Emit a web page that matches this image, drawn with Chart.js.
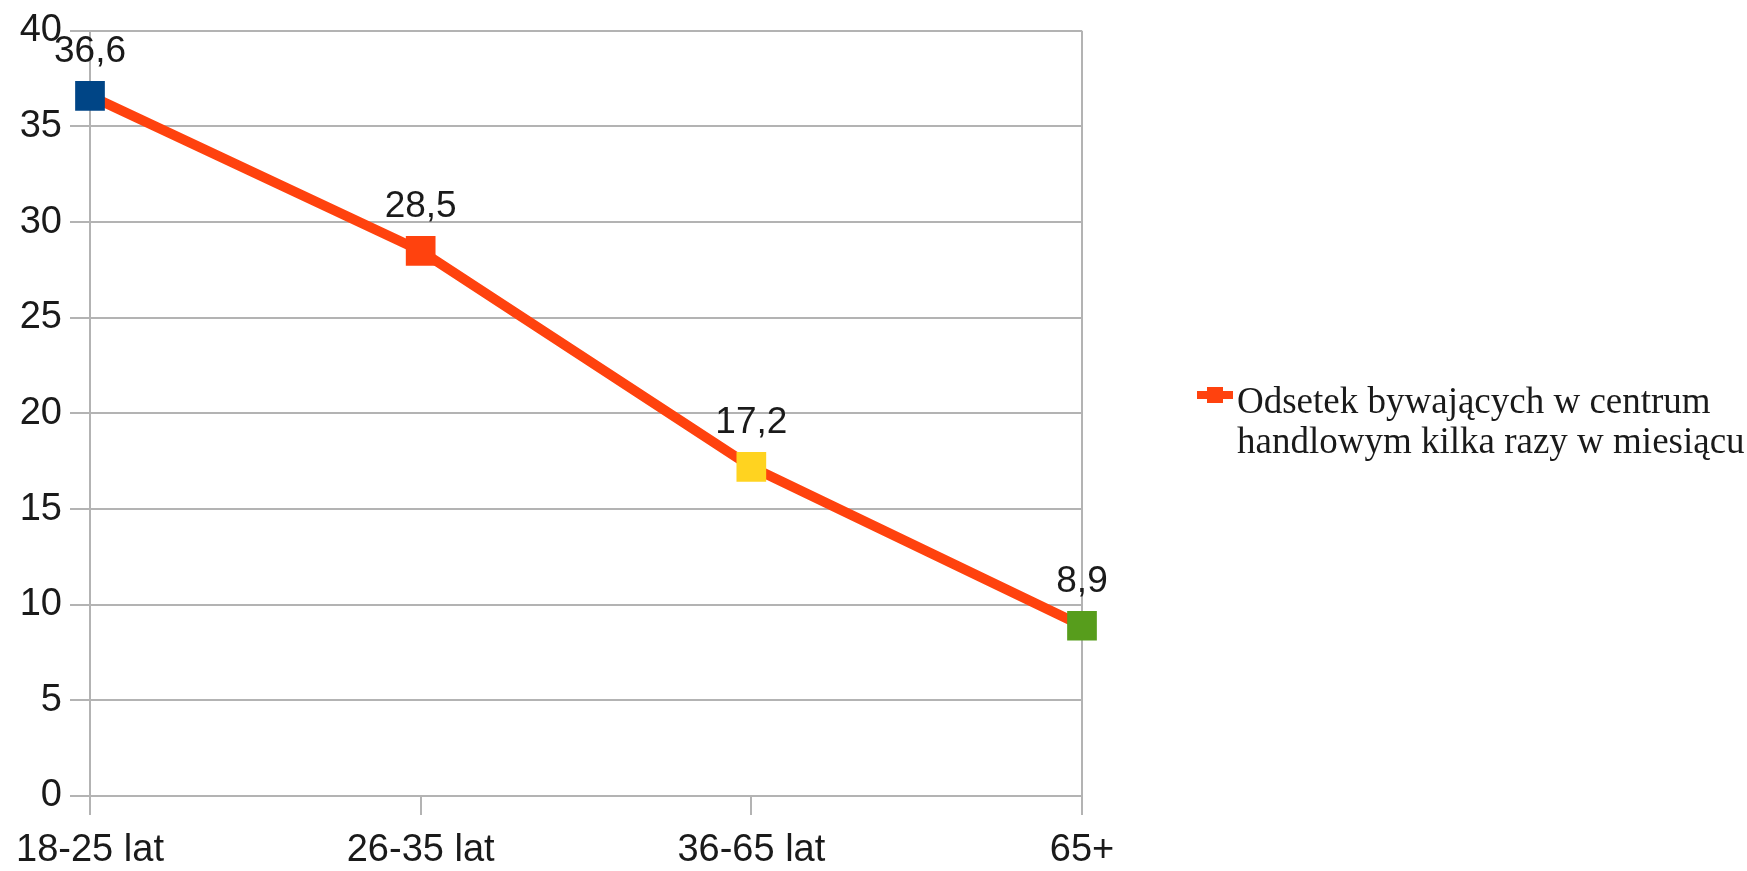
<!DOCTYPE html>
<html>
<head>
<meta charset="utf-8">
<script src="https://cdn.jsdelivr.net/npm/chart.js@4/dist/chart.umd.min.js"></script>
<style>
  html, body { margin: 0; padding: 0; background: #ffffff; }
  #wrap { width: 1747px; height: 871px; }
</style>
</head>
<body>
<div id="wrap"><canvas id="chart" width="1747" height="871"></canvas></div>
<script>
// Age groups and share of people visiting a shopping centre several times a month
const categories = ['18-25 lat', '26-35 lat', '36-65 lat', '65+'];
const values = [36.6, 28.5, 17.2, 8.9];
const pointColors = ['#004586', '#ff420e', '#ffd320', '#579d1c'];
const seriesName = ['Odsetek bywających w centrum', 'handlowym kilka razy w miesiącu'];
const yTicks = { min: 0, max: 40, step: 5 };

const LINE_COLOR = '#ff420e';
const GRID = '#b3b3b3';
const TEXT = '#1a1a1a';
const SANS = '"Liberation Sans", Arial, sans-serif';

// Value labels above each point, written with a decimal comma
const valueLabels = {
  id: 'valueLabels',
  afterDatasetsDraw(chart) {
    const ctx = chart.ctx;
    const meta = chart.getDatasetMeta(0);
    ctx.save();
    ctx.font = '37px ' + SANS;
    ctx.fillStyle = TEXT;
    ctx.textAlign = 'center';
    ctx.textBaseline = 'alphabetic';
    meta.data.forEach((pt, i) => {
      const txt = String(values[i]).replace('.', ',');
      ctx.fillText(txt, pt.x, pt.y - 34);
    });
    ctx.restore();
  }
};

// Legend on the right: line sample with square marker and two-line serif caption
const sideLegend = {
  id: 'sideLegend',
  afterDraw(chart) {
    const ctx = chart.ctx;
    const area = chart.chartArea;
    const x0 = area.right + 115;
    const yMid = 395;
    ctx.save();
    ctx.strokeStyle = LINE_COLOR;
    ctx.lineWidth = 8;
    ctx.beginPath();
    ctx.moveTo(x0, yMid);
    ctx.lineTo(x0 + 36, yMid);
    ctx.stroke();
    ctx.fillStyle = LINE_COLOR;
    ctx.fillRect(x0 + 10, yMid - 8, 16, 16);
    ctx.font = '37px "Liberation Serif", "Times New Roman", serif';
    ctx.fillStyle = TEXT;
    ctx.textAlign = 'left';
    ctx.textBaseline = 'alphabetic';
    seriesName.forEach((line, i) => {
      ctx.fillText(line, x0 + 40, 413 + i * 40);
    });
    ctx.restore();
  }
};

const lastIndex = categories.length - 1;

new Chart(document.getElementById('chart'), {
  type: 'line',
  data: {
    labels: categories,
    datasets: [{
      label: seriesName.join(' '),
      data: values,
      borderColor: LINE_COLOR,
      borderWidth: 10,
      tension: 0,
      fill: false,
      pointStyle: 'rect',
      pointRadius: 21,
      pointHoverRadius: 21,
      pointBackgroundColor: pointColors,
      pointBorderColor: pointColors,
      pointBorderWidth: 0
    }]
  },
  options: {
    responsive: false,
    animation: false,
    devicePixelRatio: 1,
    layout: { padding: { left: 0, top: 29, right: 665, bottom: 0 } },
    plugins: {
      legend: { display: false },
      tooltip: { enabled: false }
    },
    scales: {
      x: {
        type: 'category',
        offset: false,
        grid: {
          offset: false,
          color: (c) => (c.index === 0 || c.index === lastIndex) ? GRID : 'rgba(0,0,0,0)',
          tickColor: GRID,
          tickLength: 19,
          lineWidth: 2
        },
        border: { display: true, color: GRID, width: 2 },
        ticks: {
          color: TEXT,
          font: { family: SANS, size: 38 },
          padding: 13,
          maxRotation: 0,
          autoSkip: false
        },
        afterFit: (scale) => { scale.height = 75; }
      },
      y: {
        min: yTicks.min,
        max: yTicks.max,
        grid: {
          color: GRID,
          tickColor: GRID,
          tickLength: 20,
          lineWidth: 2
        },
        border: { display: true, color: GRID, width: 2 },
        ticks: {
          stepSize: yTicks.step,
          color: TEXT,
          font: { family: SANS, size: 38 },
          padding: 8
        },
        afterFit: (scale) => { scale.width = 90; }
      }
    }
  },
  plugins: [valueLabels, sideLegend]
});
</script>
</body>
</html>
